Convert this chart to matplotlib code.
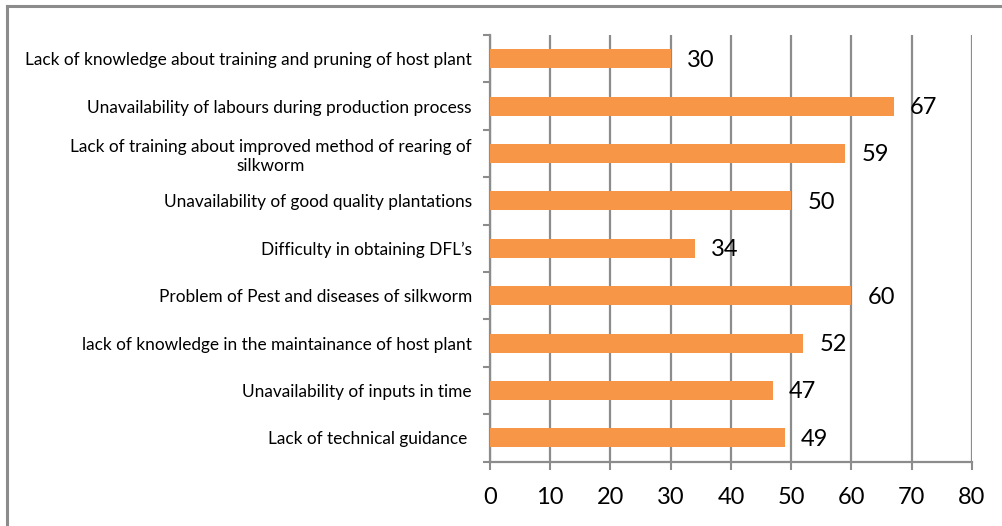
import matplotlib
matplotlib.use("Agg")
import matplotlib.pyplot as plt
from matplotlib.lines import Line2D
import numpy as np

plt.rcParams['font.family'] = ['Lato', 'DejaVu Sans']

CATEGORIES = [
    "Lack of knowledge about training and pruning of host plant",
    "Unavailability of labours during production process",
    "Lack of training about improved method of rearing of\nsilkworm",
    "Unavailability of good quality plantations",
    "Difficulty in obtaining DFL\u2019s",
    "Problem of Pest and diseases of silkworm",
    "lack of knowledge in the maintainance of host plant",
    "Unavailability of inputs in time",
    "Lack of technical guidance ",
]
VALUES = [30, 67, 59, 50, 34, 60, 52, 47, 49]
X_TICKS = [0, 10, 20, 30, 40, 50, 60, 70, 80]

BAR_COLOR = "#F79646"
GRID_COLOR = "#8c8c8c"

fig = plt.figure(figsize=(10.03, 5.26), dpi=100)
ax = fig.add_axes([490 / 1003, 1 - 461.5 / 526, 482 / 1003, 426.5 / 526])

pos = np.arange(len(CATEGORIES))
ax.barh(pos, VALUES, height=0.4, color=BAR_COLOR, zorder=3)

for p, v in zip(pos, VALUES):
    ax.annotate(str(v), xy=(v, p), xytext=(11.5, -1), textcoords="offset points",
                ha="left", va="center", fontsize=17, color="black", zorder=4)

ax.set_xlim(0, 80)
ax.set_ylim(len(CATEGORIES) - 0.5, -0.5)
ax.set_xticks(X_TICKS)
ax.set_xticklabels([str(t) for t in X_TICKS], fontsize=17)

# boundaries get the tick marks, centres get the labels
ax.set_yticks(np.arange(-0.5, len(CATEGORIES), 1.0))
ax.set_yticklabels([])
ax.set_yticks(pos, minor=True)
ax.set_yticklabels(CATEGORIES, minor=True, fontsize=12.4)
for t in ax.get_yticklabels(minor=True):
    t.set_multialignment("center")
    t.set_linespacing(1.25)

ax.tick_params(axis="y", which="major", length=5, width=1.5, color=GRID_COLOR, direction="out")
ax.tick_params(axis="y", which="minor", length=0, pad=13)
ax.tick_params(axis="x", which="major", length=6, width=1.5, color=GRID_COLOR, pad=12)

ax.grid(axis="x", color=GRID_COLOR, linewidth=1.6, zorder=0)
ax.set_axisbelow(True)
for side in ("top", "right"):
    ax.spines[side].set_visible(False)
for side in ("left", "bottom"):
    ax.spines[side].set_color(GRID_COLOR)
    ax.spines[side].set_linewidth(1.6)

# outer frame (only left and top edges show in the crop)
fig.add_artist(Line2D([7 / 1003, 7 / 1003], [0, 1 - 5.5 / 526], color="#8c8c8c", linewidth=2.2))
fig.add_artist(Line2D([7 / 1003, 1], [1 - 5.5 / 526, 1 - 5.5 / 526], color="#8c8c8c", linewidth=2.2))

fig.savefig("out.png", dpi=100)
